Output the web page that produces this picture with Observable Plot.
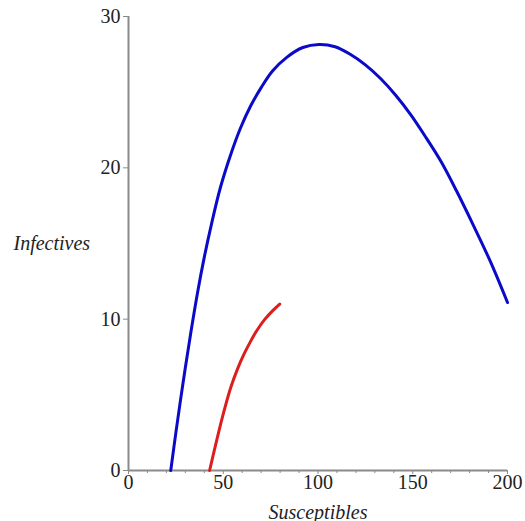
<!DOCTYPE html>
<html>
<head>
<meta charset="utf-8">
<script src="https://cdn.jsdelivr.net/npm/d3@7"></script>
<script src="https://cdn.jsdelivr.net/npm/@observablehq/plot@0.6"></script>
<style>
  html, body { margin: 0; padding: 0; background: #fff; }
</style>
</head>
<body>
<div id="chart"></div>
<script>
// Blue trajectory (Susceptibles, Infectives)
const blueS = [22.3, 25, 27.5, 30, 33, 36.5, 40, 44, 48.5, 54, 59, 64.5, 70, 76, 83.5, 92, 100.5, 109, 117, 125, 133, 141, 149, 157, 165, 173, 182, 191, 200];
const blueI = [0, 2.5, 4.7, 6.8, 9.2, 11.8, 14.1, 16.4, 18.7, 20.9, 22.6, 24.1, 25.3, 26.4, 27.3, 27.95, 28.15, 28.0, 27.5, 26.8, 25.9, 24.8, 23.5, 22.0, 20.4, 18.5, 16.2, 13.8, 11.1];
// Red trajectory
const redS = [42.8, 45.5, 48, 51, 54, 57.5, 61, 64.5, 68, 72, 76, 79.8];
const redI = [0, 1.45, 2.75, 4.2, 5.5, 6.7, 7.7, 8.55, 9.3, 10.0, 10.55, 11.0];

const xTicks = [0, 50, 100, 150, 200];
const xMinor = [10, 20, 30, 40, 60, 70, 80, 90, 110, 120, 130, 140, 160, 170, 180, 190];
const yTicks = [0, 10, 20, 30];
const xLabel = "Susceptibles";
const yLabel = "Infectives";

const blue = blueS.map((s, i) => ({S: s, I: blueI[i]}));
const red = redS.map((s, i) => ({S: s, I: redI[i]}));

const font = "'Times New Roman', Times, 'Liberation Serif', 'DejaVu Serif', serif";
const axisGray = "#8a8a8a";

const chart = Plot.plot({
  width: 525,
  height: 521,
  marginLeft: 128,
  marginRight: 18,
  marginTop: 16,
  marginBottom: 51,
  style: {fontSize: "20px", background: "#fff", color: "#222"},
  x: {domain: [0, 200]},
  y: {domain: [0, 30]},
  marks: [
    Plot.axisX(xMinor, {tickSize: 3, text: null, stroke: axisGray, label: null}),
    Plot.axisX(xTicks, {tickSize: 4, tickPadding: 0, stroke: axisGray, label: null, fontSize: 20, fill: "#222"}),
    Plot.axisY(yTicks, {tickSize: 5, tickPadding: 3, stroke: axisGray, label: null, fontSize: 20, fill: "#222"}),
    Plot.ruleY([0], {stroke: axisGray, strokeWidth: 2}),
    Plot.ruleX([0], {stroke: axisGray, strokeWidth: 2}),
    Plot.line(blue, {x: "S", y: "I", stroke: "#0a0ac8", strokeWidth: 3, curve: "catmull-rom"}),
    Plot.line(red, {x: "S", y: "I", stroke: "#dc1e1e", strokeWidth: 3, curve: "catmull-rom"}),
    Plot.text([xLabel], {frameAnchor: "bottom", dy: 48, fontSize: 20, fontStyle: "italic", fill: "#222", lineAnchor: "bottom"}),
    Plot.text([yLabel], {frameAnchor: "left", dx: -115, textAnchor: "start", fontSize: 20, fontStyle: "italic", fill: "#222"})
  ]
});
chart.style.fontFamily = font;
chart.querySelectorAll("g, text").forEach(el => {
  el.removeAttribute("font-family");
  el.style.fontFamily = font;
});
document.getElementById("chart").appendChild(chart);
</script>
</body>
</html>
